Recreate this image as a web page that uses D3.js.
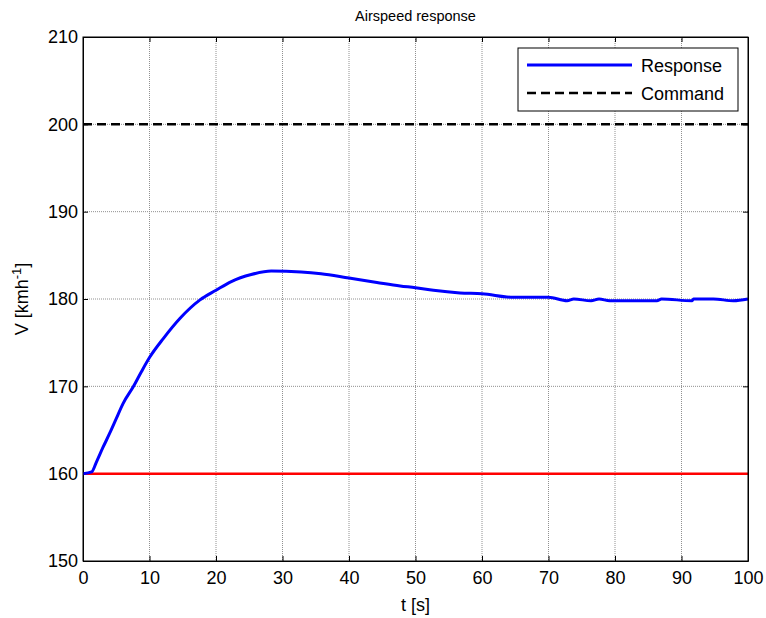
<!DOCTYPE html>
<html>
<head>
<meta charset="utf-8">
<script src="https://cdn.jsdelivr.net/npm/d3@7"></script>
<style>
  body { margin: 0; background: #fff; }
  svg { font-family: "Liberation Sans", Arial, sans-serif; }
  .grid line { stroke: #909090; stroke-width: 1; stroke-dasharray: 1,1; }
</style>
</head>
<body>
<div id="chart"></div>
<script>
// time samples [s] and airspeed response [km/h]
var times = [0, 1.3, 2.0, 3.0, 4.0, 5.0, 6.0, 7.6, 8.8, 10, 12.1, 14.6, 17.6, 20, 22.3, 25.3, 28.3,
             32.8, 35.8, 40, 44.2, 47.7, 50, 52.7, 56.7, 60, 64.7, 70, 72.8, 73.8, 76.4, 77.6, 79.2,
             86.3, 87, 91.6, 91.8, 94.8, 97.8, 100];
var response = [160, 160.2, 161.3, 163.0, 164.6, 166.3, 168.0, 170.0, 171.7, 173.3, 175.5, 177.8, 179.9, 181.0, 182.0, 182.8, 183.2,
                183.1, 182.9, 182.4, 181.9, 181.5, 181.3, 181.0, 180.7, 180.6, 180.2, 180.2, 179.8, 180.0, 179.8, 180.0, 179.8,
                179.8, 180.0, 179.8, 180.0, 180.0, 179.8, 180.0];
var command = 200;
var initial = 160;
var xTicks = [0, 10, 20, 30, 40, 50, 60, 70, 80, 90, 100];
var yTicks = [150, 160, 170, 180, 190, 200, 210];

var W = 766, H = 618;
var pLeft = 83, pRight = 748, pTop = 37, pBottom = 561;

var svg = d3.select("#chart").append("svg")
    .attr("width", W)
    .attr("height", H);

var x = d3.scaleLinear().domain([0, 100]).range([pLeft, pRight]),
    y = d3.scaleLinear().domain([150, 210]).range([pBottom, pTop]);

// grid
var grid = svg.append("g").attr("class", "grid");
grid.selectAll(".gx").data(xTicks.slice(1, -1)).enter().append("line")
    .attr("x1", function(d) { return x(d); }).attr("x2", function(d) { return x(d); })
    .attr("y1", pTop).attr("y2", pBottom);
grid.selectAll(".gy").data(yTicks.slice(1, -1)).enter().append("line")
    .attr("y1", function(d) { return y(d); }).attr("y2", function(d) { return y(d); })
    .attr("x1", pLeft).attr("x2", pRight);

// axes, ticks pointing inward on all four sides
var xAxis = d3.axisBottom(x).tickValues(xTicks).tickSizeInner(-5).tickSizeOuter(0).tickPadding(10);
var yAxis = d3.axisLeft(y).tickValues(yTicks).tickSizeInner(-5).tickSizeOuter(0).tickPadding(5);
var xAxisTop = d3.axisTop(x).tickValues(xTicks).tickSizeInner(-5).tickSizeOuter(0).tickFormat("");
var yAxisRight = d3.axisRight(y).tickValues(yTicks).tickSizeInner(-5).tickSizeOuter(0).tickFormat("");

function styleAxis(g) {
  g.select(".domain").attr("stroke", "#000");
  g.selectAll(".tick line").attr("stroke", "#000");
  g.selectAll(".tick text").attr("fill", "#000").style("font-size", "18px")
    .style("font-family", "'Liberation Sans', Arial, sans-serif");
}

svg.append("g").attr("transform", "translate(0," + pBottom + ")").call(xAxis).call(styleAxis);
svg.append("g").attr("transform", "translate(" + pLeft + ",0)").call(yAxis).call(styleAxis);
svg.append("g").attr("transform", "translate(0," + pTop + ")").call(xAxisTop).call(styleAxis);
svg.append("g").attr("transform", "translate(" + pRight + ",0)").call(yAxisRight).call(styleAxis);

// initial value line
svg.append("line")
    .attr("x1", x(0)).attr("x2", x(100))
    .attr("y1", y(initial)).attr("y2", y(initial))
    .attr("stroke", "#ff0000").attr("stroke-width", 2.5);

// command
svg.append("line")
    .attr("x1", x(0)).attr("x2", x(100))
    .attr("y1", y(command)).attr("y2", y(command))
    .attr("stroke", "#000").attr("stroke-width", 2.5)
    .attr("stroke-dasharray", "9,5");

// response
var line = d3.line()
    .curve(d3.curveMonotoneX)
    .x(function(d, i) { return x(times[i]); })
    .y(function(d) { return y(d); });

svg.append("path")
    .datum(response)
    .attr("fill", "none")
    .attr("stroke", "#0000ff")
    .attr("stroke-width", 3)
    .attr("d", line);

// redraw box on top
svg.append("rect")
    .attr("x", pLeft).attr("y", pTop)
    .attr("width", pRight - pLeft).attr("height", pBottom - pTop)
    .attr("fill", "none").attr("stroke", "#000").attr("stroke-width", 1);

// title and labels
svg.append("text")
    .attr("x", (pLeft + pRight) / 2).attr("y", 21)
    .attr("text-anchor", "middle")
    .style("font-size", "14.5px")
    .text("Airspeed response");

svg.append("text")
    .attr("x", (pLeft + pRight) / 2).attr("y", 611)
    .attr("text-anchor", "middle")
    .style("font-size", "18px")
    .text("t [s]");

var yl = svg.append("text")
    .attr("transform", "translate(28," + ((pTop + pBottom) / 2) + ") rotate(-90)")
    .attr("text-anchor", "middle")
    .style("font-size", "18px");
yl.append("tspan").text("V [kmh");
yl.append("tspan").attr("baseline-shift", "super").style("font-size", "13px").text("-1");
yl.append("tspan").text("]");

// legend
var legend = svg.append("g");
legend.append("rect")
    .attr("x", 518).attr("y", 48).attr("width", 220).attr("height", 63)
    .attr("fill", "#fff").attr("stroke", "#000").attr("stroke-width", 1);

var legendItems = [
  {label: "Response", color: "#0000ff", dash: null, y: 65},
  {label: "Command", color: "#000", dash: "9,5", y: 93}
];
legendItems.forEach(function(d) {
  legend.append("line")
      .attr("x1", 527).attr("x2", 632)
      .attr("y1", d.y).attr("y2", d.y)
      .attr("stroke", d.color).attr("stroke-width", d.dash ? 2.5 : 3)
      .attr("stroke-dasharray", d.dash);
  legend.append("text")
      .attr("x", 641).attr("y", d.y + 7)
      .style("font-size", "18px")
      .text(d.label);
});
</script>
</body>
</html>
